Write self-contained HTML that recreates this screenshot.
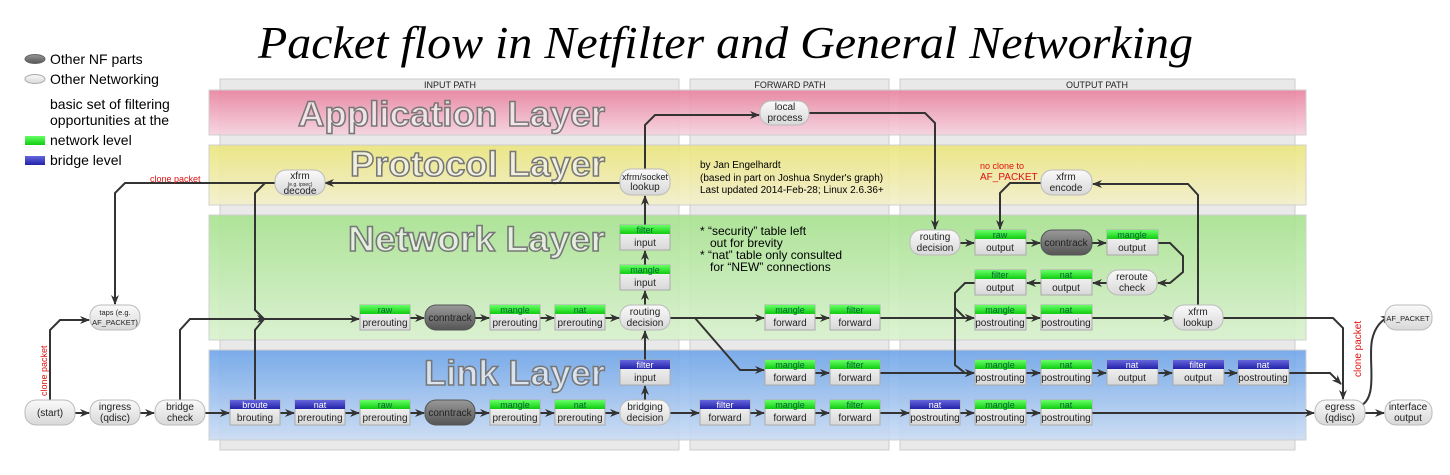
<!DOCTYPE html>
<html><head><meta charset="utf-8"><style>
html,body{margin:0;padding:0;background:#fff;width:1450px;height:475px;overflow:hidden}
svg{display:block}
text{font-family:"Liberation Sans",sans-serif}
.t{font-size:10px;text-anchor:middle;fill:#222}
.h{font-size:9px;text-anchor:middle;fill:#063}
.hb{font-size:9px;text-anchor:middle;fill:#fff}
.bx{fill:url(#gw);stroke:#aaa;stroke-width:1}
.ov{fill:url(#gw);stroke:#bbb;stroke-width:1}
.dk{fill:url(#gd);stroke:#555;stroke-width:1}
.gh{fill:url(#gg)}
.bh{fill:url(#gb)}
.ln{fill:none;stroke:#333;stroke-width:2;marker-end:url(#ar)}
.nl{fill:none;stroke:#333;stroke-width:2}
.lt{font-size:35px;font-weight:bold;text-anchor:end;fill:#f2f2f2;stroke:#777;stroke-width:1.5;fill-opacity:.75}
.ph{font-size:9px;text-anchor:middle;fill:#222}
.red{fill:#e01010;font-size:9px}
</style></head><body>
<svg width="1450" height="475" viewBox="0 0 1450 475" xmlns="http://www.w3.org/2000/svg">
<defs>
<linearGradient id="gw" x1="0" y1="0" x2="0" y2="1"><stop offset="0" stop-color="#fafafa"/><stop offset="1" stop-color="#d8d8d8"/></linearGradient>
<linearGradient id="gd" x1="0" y1="0" x2="0" y2="1"><stop offset="0" stop-color="#999"/><stop offset="1" stop-color="#555"/></linearGradient>
<linearGradient id="gg" x1="0" y1="0" x2="0" y2="1"><stop offset="0" stop-color="#6f6"/><stop offset="1" stop-color="#1c1"/></linearGradient>
<linearGradient id="gb" x1="0" y1="0" x2="0" y2="1"><stop offset="0" stop-color="#66d"/><stop offset="1" stop-color="#22a"/></linearGradient>
<linearGradient id="lp" x1="0" y1="0" x2="0" y2="1"><stop offset="0" stop-color="#e9819f"/><stop offset="1" stop-color="#f6d3df"/></linearGradient>
<linearGradient id="ly" x1="0" y1="0" x2="0" y2="1"><stop offset="0" stop-color="#ece67c"/><stop offset="1" stop-color="#f3f0cc"/></linearGradient>
<linearGradient id="lg" x1="0" y1="0" x2="0" y2="1"><stop offset="0" stop-color="#a8e390"/><stop offset="1" stop-color="#daf2cf"/></linearGradient>
<linearGradient id="lb" x1="0" y1="0" x2="0" y2="1"><stop offset="0" stop-color="#6ea5ea"/><stop offset="1" stop-color="#cadcf4"/></linearGradient>
<marker id="ar" markerWidth="10" markerHeight="8" refX="9" refY="4" orient="auto" markerUnits="userSpaceOnUse"><path d="M0,0 L10,4 L0,8 L3,4 z" fill="#333"/></marker>
</defs>

<text x="258" y="58" font-style="italic" textLength="935" lengthAdjust="spacingAndGlyphs" style="font-family:'Liberation Serif',serif;font-size:46px">Packet flow in Netfilter and General Networking</text>

<ellipse cx="35" cy="59" rx="10" ry="4.5" fill="url(#gd)" stroke="#666"/>
<text x="50" y="64" style="font-size:14px">Other NF parts</text>
<ellipse cx="35" cy="79" rx="10" ry="4.5" fill="url(#gw)" stroke="#aaa"/>
<text x="50" y="84" style="font-size:14px">Other Networking</text>
<text x="50" y="109" style="font-size:14px">basic set of filtering</text>
<text x="50" y="125" style="font-size:14px">opportunities at the</text>
<rect x="25" y="136" width="20" height="9" fill="url(#gg)"/>
<text x="50" y="145" style="font-size:14px">network level</text>
<rect x="25" y="156" width="20" height="9" fill="url(#gb)"/>
<text x="50" y="165" style="font-size:14px">bridge level</text>

<rect x="220" y="79" width="459" height="371" fill="#e9e9e9" stroke="#ccc"/>
<rect x="690" y="79" width="199" height="371" fill="#e9e9e9" stroke="#ccc"/>
<rect x="900" y="79" width="395" height="371" fill="#e9e9e9" stroke="#ccc"/>
<text x="450" y="88" class="ph">INPUT PATH</text>
<text x="790" y="88" class="ph">FORWARD PATH</text>
<text x="1097" y="88" class="ph">OUTPUT PATH</text>

<g opacity="0.9">
<rect x="209" y="90" width="1097" height="45" fill="url(#lp)" stroke="#ccc"/>
<rect x="209" y="145" width="1097" height="60" fill="url(#ly)" stroke="#ccc"/>
<rect x="209" y="215" width="1097" height="125" fill="url(#lg)" stroke="#ccc"/>
<rect x="209" y="350" width="1097" height="90" fill="url(#lb)" stroke="#ccc"/>
</g>
<text x="605" y="126" class="lt" textLength="307" lengthAdjust="spacingAndGlyphs">Application Layer</text>
<text x="605" y="176" class="lt" textLength="255" lengthAdjust="spacingAndGlyphs">Protocol Layer</text>
<text x="605" y="251" class="lt" textLength="257" lengthAdjust="spacingAndGlyphs">Network Layer</text>
<text x="605" y="385" class="lt" textLength="181" lengthAdjust="spacingAndGlyphs">Link Layer</text>

<g style="font-family:'Liberation Serif',serif;font-size:10px">
<text x="700" y="168">by Jan Engelhardt</text>
<text x="700" y="181">(based in part on Joshua Snyder's graph)</text>
<text x="700" y="193">Last updated 2014-Feb-28; Linux 2.6.36+</text>
</g>
<g style="font-size:12px">
<text x="700" y="235">* “security” table left</text>
<text x="710" y="247">out for brevity</text>
<text x="700" y="259">* “nat” table only consulted</text>
<text x="710" y="271">for “NEW” connections</text>
</g>

<path class="ln" d="M75,413 H89"/>
<path class="ln" d="M140,413 H154"/>
<path class="ln" d="M205,413 H229"/>
<path class="ln" d="M280,413 H294"/>
<path class="ln" d="M345,413 H359"/>
<path class="ln" d="M410,413 H424"/>
<path class="ln" d="M475,413 H489"/>
<path class="ln" d="M540,413 H554"/>
<path class="ln" d="M605,413 H619"/>
<path class="ln" d="M670,413 H699"/>
<path class="ln" d="M750,413 H764"/>
<path class="ln" d="M815,413 H829"/>
<path class="ln" d="M880,413 H909"/>
<path class="ln" d="M960,413 H974"/>
<path class="ln" d="M1026,413 H1040"/>
<path class="ln" d="M1092,413 H1314"/>
<path class="ln" d="M1365,413 H1384"/>

<path class="ln" d="M645,400 V386"/>
<path class="ln" d="M645,360 V331"/>
<path class="ln" d="M645,305 V291"/>
<path class="ln" d="M645,265 V251"/>
<path class="ln" d="M645,225 V196"/>
<path class="ln" d="M645,169 V125 L655,115 H759"/>
<path class="ln" d="M809,113 H925 L935,123 V229"/>
<path class="ln" d="M620,183 H325"/>
<path class="ln" d="M275,183 H125 L115,193 V304"/>
<path class="nl" d="M265,183 L255,193 V310 L264,319"/>
<path class="nl" d="M255,400 V330 L264,319"/>
<path class="ln" d="M180,400 V330 L190,319 H266"/>
<path class="ln" d="M266,319 H359"/>
<path class="ln" d="M50,400 V330 L60,320 H89"/>

<path class="ln" d="M410,318 H424"/>
<path class="ln" d="M475,318 H489"/>
<path class="ln" d="M540,318 H554"/>
<path class="ln" d="M605,318 H619"/>
<path class="ln" d="M670,318 H764"/>
<path class="ln" d="M695,318 L740,370 H764"/>
<path class="ln" d="M815,318 H829"/>
<path class="ln" d="M815,373 H829"/>
<path class="ln" d="M880,318 H974"/>
<path class="ln" d="M880,373 H974"/>

<path class="ln" d="M960,243 H974"/>
<path class="ln" d="M1026,243 H1040"/>
<path class="ln" d="M1092,243 H1106"/>
<path class="ln" d="M1158,243 H1170 L1183,256 V272 L1170,283 H1158"/>
<path class="ln" d="M1107,283 H1093"/>
<path class="ln" d="M1041,283 H1027"/>
<path class="ln" d="M975,283 H965 L955,293 V365 L965,373 H974"/>
<path class="ln" d="M955,308 L965,318 H974"/>
<path class="ln" d="M1026,318 H1040"/>
<path class="ln" d="M1026,373 H1040"/>
<path class="ln" d="M1092,318 H1172"/>
<path class="ln" d="M1198,305 V195 L1188,184 H1093"/>
<path class="ln" d="M1041,183 H1010 L1000,193 V229"/>
<path class="ln" d="M1223,318 H1333 L1343,328 V399"/>
<path class="ln" d="M1092,373 H1106"/>
<path class="ln" d="M1158,373 H1172"/>
<path class="ln" d="M1224,373 H1237"/>
<path class="ln" d="M1289,373 H1330 L1341,384"/>
<path class="ln" d="M1362,405 C1378,395 1368,360 1372,340 C1375,326 1382,320 1390,316"/>

<text x="150" y="182" class="red">clone packet</text>
<text class="red" transform="translate(47,396) rotate(-90)">clone packet</text>
<text class="red" transform="translate(1361,377) rotate(-90)" style="font-size:10px">clone packet</text>
<text x="980" y="169" class="red">no clone to</text>
<text x="980" y="180" class="red" style="font-size:10px">AF_PACKET</text>

<g>
<rect x="25" y="400" width="50" height="25" rx="11" class="ov"/><text x="50" y="416" class="t">(start)</text>
<rect x="90" y="400" width="50" height="25" rx="11" class="ov"/><text x="115" y="410" class="t">ingress</text><text x="115" y="421" class="t">(qdisc)</text>
<rect x="155" y="400" width="50" height="25" rx="11" class="ov"/><text x="180" y="410" class="t">bridge</text><text x="180" y="421" class="t">check</text>
<rect x="90" y="305" width="50" height="25" rx="11" class="ov"/><text x="115" y="315" class="t" style="font-size:7.5px">taps (e.g.</text><text x="115" y="325" class="t" style="font-size:7.5px">AF_PACKET)</text>
<rect x="275" y="170" width="50" height="25" rx="11" class="ov"/><text x="300" y="179" class="t">xfrm</text><text x="300" y="186" class="t" style="font-size:5px">(e.g. ipsec)</text><text x="300" y="194" class="t">decode</text>
<rect x="620" y="169" width="50" height="26" rx="11" class="ov"/><text x="645" y="180" class="t" style="font-size:9px">xfrm/socket</text><text x="645" y="190" class="t">lookup</text>
<rect x="760" y="101" width="49" height="24" rx="11" class="ov"/><text x="785" y="110" class="t">local</text><text x="785" y="121" class="t">process</text>
<rect x="620" y="305" width="50" height="25" rx="11" class="ov"/><text x="645" y="315" class="t">routing</text><text x="645" y="326" class="t">decision</text>
<rect x="620" y="400" width="50" height="25" rx="11" class="ov"/><text x="645" y="410" class="t">bridging</text><text x="645" y="421" class="t">decision</text>
<rect x="910" y="230" width="50" height="25" rx="11" class="ov"/><text x="935" y="240" class="t">routing</text><text x="935" y="251" class="t">decision</text>
<rect x="1041" y="170" width="51" height="25" rx="11" class="ov"/><text x="1066" y="180" class="t">xfrm</text><text x="1066" y="191" class="t">encode</text>
<rect x="1107" y="270" width="50" height="25" rx="11" class="ov"/><text x="1132" y="280" class="t">reroute</text><text x="1132" y="291" class="t">check</text>
<rect x="1173" y="305" width="50" height="25" rx="11" class="ov"/><text x="1198" y="315" class="t">xfrm</text><text x="1198" y="326" class="t">lookup</text>
<rect x="1315" y="400" width="50" height="25" rx="11" class="ov"/><text x="1340" y="410" class="t">egress</text><text x="1340" y="421" class="t">(qdisc)</text>
<rect x="1385" y="400" width="47" height="25" rx="11" class="ov"/><text x="1408" y="410" class="t">interface</text><text x="1408" y="421" class="t">output</text>
<rect x="1385" y="305" width="47" height="25" rx="11" class="ov"/><text x="1408" y="321" class="t" style="font-size:7.5px">AF_PACKET</text>
</g>

<rect x="425" y="305" width="50" height="25" rx="11" class="dk"/><text x="450" y="321" class="t">conntrack</text>
<rect x="425" y="400" width="50" height="25" rx="11" class="dk"/><text x="450" y="416" class="t">conntrack</text>
<rect x="1041" y="230" width="51" height="25" rx="11" class="dk"/><text x="1066" y="246" class="t">conntrack</text>

<g>
<g transform="translate(360,305)"><rect class="bx" width="50" height="25"/><rect class="gh" width="50" height="9"/><text x="25" y="8" class="h">raw</text><text x="25" y="21" class="t">prerouting</text></g>
<g transform="translate(490,305)"><rect class="bx" width="50" height="25"/><rect class="gh" width="50" height="9"/><text x="25" y="8" class="h">mangle</text><text x="25" y="21" class="t">prerouting</text></g>
<g transform="translate(555,305)"><rect class="bx" width="50" height="25"/><rect class="gh" width="50" height="9"/><text x="25" y="8" class="h">nat</text><text x="25" y="21" class="t">prerouting</text></g>
<g transform="translate(620,265)"><rect class="bx" width="50" height="25"/><rect class="gh" width="50" height="9"/><text x="25" y="8" class="h">mangle</text><text x="25" y="21" class="t">input</text></g>
<g transform="translate(620,225)"><rect class="bx" width="50" height="25"/><rect class="gh" width="50" height="9"/><text x="25" y="8" class="h">filter</text><text x="25" y="21" class="t">input</text></g>
<g transform="translate(360,400)"><rect class="bx" width="50" height="25"/><rect class="gh" width="50" height="9"/><text x="25" y="8" class="h">raw</text><text x="25" y="21" class="t">prerouting</text></g>
<g transform="translate(490,400)"><rect class="bx" width="50" height="25"/><rect class="gh" width="50" height="9"/><text x="25" y="8" class="h">mangle</text><text x="25" y="21" class="t">prerouting</text></g>
<g transform="translate(555,400)"><rect class="bx" width="50" height="25"/><rect class="gh" width="50" height="9"/><text x="25" y="8" class="h">nat</text><text x="25" y="21" class="t">prerouting</text></g>
<g transform="translate(765,305)"><rect class="bx" width="50" height="25"/><rect class="gh" width="50" height="9"/><text x="25" y="8" class="h">mangle</text><text x="25" y="21" class="t">forward</text></g>
<g transform="translate(830,305)"><rect class="bx" width="50" height="25"/><rect class="gh" width="50" height="9"/><text x="25" y="8" class="h">filter</text><text x="25" y="21" class="t">forward</text></g>
<g transform="translate(765,360)"><rect class="bx" width="50" height="25"/><rect class="gh" width="50" height="9"/><text x="25" y="8" class="h">mangle</text><text x="25" y="21" class="t">forward</text></g>
<g transform="translate(830,360)"><rect class="bx" width="50" height="25"/><rect class="gh" width="50" height="9"/><text x="25" y="8" class="h">filter</text><text x="25" y="21" class="t">forward</text></g>
<g transform="translate(765,400)"><rect class="bx" width="50" height="25"/><rect class="gh" width="50" height="9"/><text x="25" y="8" class="h">mangle</text><text x="25" y="21" class="t">forward</text></g>
<g transform="translate(830,400)"><rect class="bx" width="50" height="25"/><rect class="gh" width="50" height="9"/><text x="25" y="8" class="h">filter</text><text x="25" y="21" class="t">forward</text></g>
<g transform="translate(975,230)"><rect class="bx" width="51" height="25"/><rect class="gh" width="51" height="9"/><text x="25" y="8" class="h">raw</text><text x="25" y="21" class="t">output</text></g>
<g transform="translate(1107,230)"><rect class="bx" width="51" height="25"/><rect class="gh" width="51" height="9"/><text x="25" y="8" class="h">mangle</text><text x="25" y="21" class="t">output</text></g>
<g transform="translate(975,270)"><rect class="bx" width="51" height="25"/><rect class="gh" width="51" height="9"/><text x="25" y="8" class="h">filter</text><text x="25" y="21" class="t">output</text></g>
<g transform="translate(1041,270)"><rect class="bx" width="51" height="25"/><rect class="gh" width="51" height="9"/><text x="25" y="8" class="h">nat</text><text x="25" y="21" class="t">output</text></g>
<g transform="translate(975,305)"><rect class="bx" width="51" height="25"/><rect class="gh" width="51" height="9"/><text x="25" y="8" class="h">mangle</text><text x="25" y="21" class="t">postrouting</text></g>
<g transform="translate(1041,305)"><rect class="bx" width="51" height="25"/><rect class="gh" width="51" height="9"/><text x="25" y="8" class="h">nat</text><text x="25" y="21" class="t">postrouting</text></g>
<g transform="translate(975,360)"><rect class="bx" width="51" height="25"/><rect class="gh" width="51" height="9"/><text x="25" y="8" class="h">mangle</text><text x="25" y="21" class="t">postrouting</text></g>
<g transform="translate(1041,360)"><rect class="bx" width="51" height="25"/><rect class="gh" width="51" height="9"/><text x="25" y="8" class="h">nat</text><text x="25" y="21" class="t">postrouting</text></g>
<g transform="translate(975,400)"><rect class="bx" width="51" height="25"/><rect class="gh" width="51" height="9"/><text x="25" y="8" class="h">mangle</text><text x="25" y="21" class="t">postrouting</text></g>
<g transform="translate(1041,400)"><rect class="bx" width="51" height="25"/><rect class="gh" width="51" height="9"/><text x="25" y="8" class="h">nat</text><text x="25" y="21" class="t">postrouting</text></g>
</g>

<g>
<g transform="translate(230,400)"><rect class="bx" width="50" height="25"/><rect class="bh" width="50" height="9"/><text x="25" y="8" class="hb">broute</text><text x="25" y="21" class="t">brouting</text></g>
<g transform="translate(295,400)"><rect class="bx" width="50" height="25"/><rect class="bh" width="50" height="9"/><text x="25" y="8" class="hb">nat</text><text x="25" y="21" class="t">prerouting</text></g>
<g transform="translate(620,360)"><rect class="bx" width="50" height="25"/><rect class="bh" width="50" height="9"/><text x="25" y="8" class="hb">filter</text><text x="25" y="21" class="t">input</text></g>
<g transform="translate(700,400)"><rect class="bx" width="50" height="25"/><rect class="bh" width="50" height="9"/><text x="25" y="8" class="hb">filter</text><text x="25" y="21" class="t">forward</text></g>
<g transform="translate(910,400)"><rect class="bx" width="50" height="25"/><rect class="bh" width="50" height="9"/><text x="25" y="8" class="hb">nat</text><text x="25" y="21" class="t">postrouting</text></g>
<g transform="translate(1107,360)"><rect class="bx" width="51" height="25"/><rect class="bh" width="51" height="9"/><text x="25" y="8" class="hb">nat</text><text x="25" y="21" class="t">output</text></g>
<g transform="translate(1173,360)"><rect class="bx" width="51" height="25"/><rect class="bh" width="51" height="9"/><text x="25" y="8" class="hb">filter</text><text x="25" y="21" class="t">output</text></g>
<g transform="translate(1238,360)"><rect class="bx" width="51" height="25"/><rect class="bh" width="51" height="9"/><text x="25" y="8" class="hb">nat</text><text x="25" y="21" class="t">postrouting</text></g>
</g>
</svg>
</body></html>
